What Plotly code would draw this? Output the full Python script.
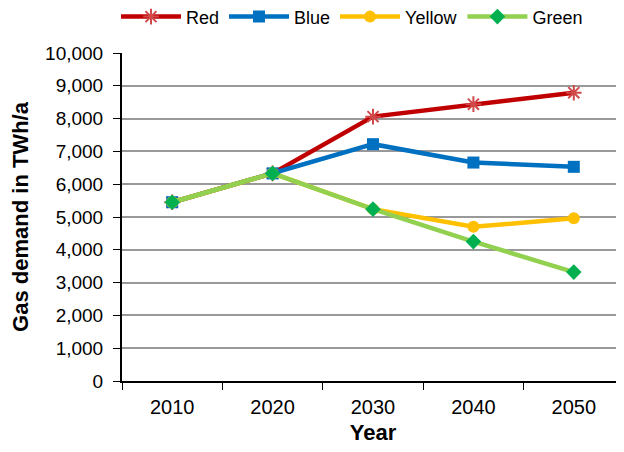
import plotly.graph_objects as go

years = ["2010", "2020", "2030", "2040", "2050"]
red = [5450, 6330, 8060, 8440, 8790]
blue = [5450, 6330, 7220, 6660, 6530]
yellow = [5450, 6330, 5240, 4700, 4960]
green = [5450, 6330, 5240, 4250, 3320]
y_ticks = list(range(0, 10001, 1000))
y_tick_labels = [f"{v:,}" for v in y_ticks]

fig = go.Figure()
series = [
    ("Red", red, "#C00000", dict(symbol="asterisk-open", size=13, color="#D04848", line=dict(color="#D04848", width=2))),
    ("Blue", blue, "#0070C0", dict(symbol="square", size=12, color="#0070C0")),
    ("Yellow", yellow, "#FFC000", dict(symbol="circle", size=12, color="#FFC000")),
    ("Green", green, "#92D050", dict(symbol="diamond", size=12, color="#00B050")),
]
for name, vals, lc, mk in series:
    fig.add_trace(go.Scatter(x=years, y=vals, name=name, mode="lines+markers",
                             line=dict(color=lc, width=4.5), marker=mk))

# page body adds an 8px offset; compensate in figure size/margins
fig.update_layout(
    width=616, height=444,
    margin=dict(l=114, r=0, t=45, b=71, autoexpand=False),
    paper_bgcolor="white", plot_bgcolor="white",
    font=dict(family="Liberation Sans, Arial, sans-serif", size=18, color="black"),
    legend=dict(orientation="h", xref="paper", yref="paper",
                x=-0.012, xanchor="left", y=1.11, yanchor="middle",
                font=dict(size=18), itemwidth=60, tracegroupgap=0),
    showlegend=True,
)
fig.update_xaxes(
    type="category", range=[-0.5, 4.5], tickson="boundaries",
    ticks="outside", ticklen=7, tickcolor="black", showline=True, linecolor="black", linewidth=2,
    showgrid=False, ticklabelstandoff=7,
    title=dict(text="<b>Year</b>", font=dict(size=22), standoff=8),
    tickfont=dict(size=20),
)
fig.update_yaxes(
    range=[0, 10000], tickvals=y_ticks, ticktext=y_tick_labels,
    ticks="outside", ticklen=7, tickcolor="black", showline=True, linecolor="black", linewidth=2,
    showgrid=True, gridcolor="#999999", gridwidth=1.5, zeroline=False, ticklabelstandoff=6,
    title=dict(text="<b>Gas demand in TWh/a</b>", font=dict(size=22), standoff=10),
    tickfont=dict(size=19),
)
fig.write_html("out.html")
